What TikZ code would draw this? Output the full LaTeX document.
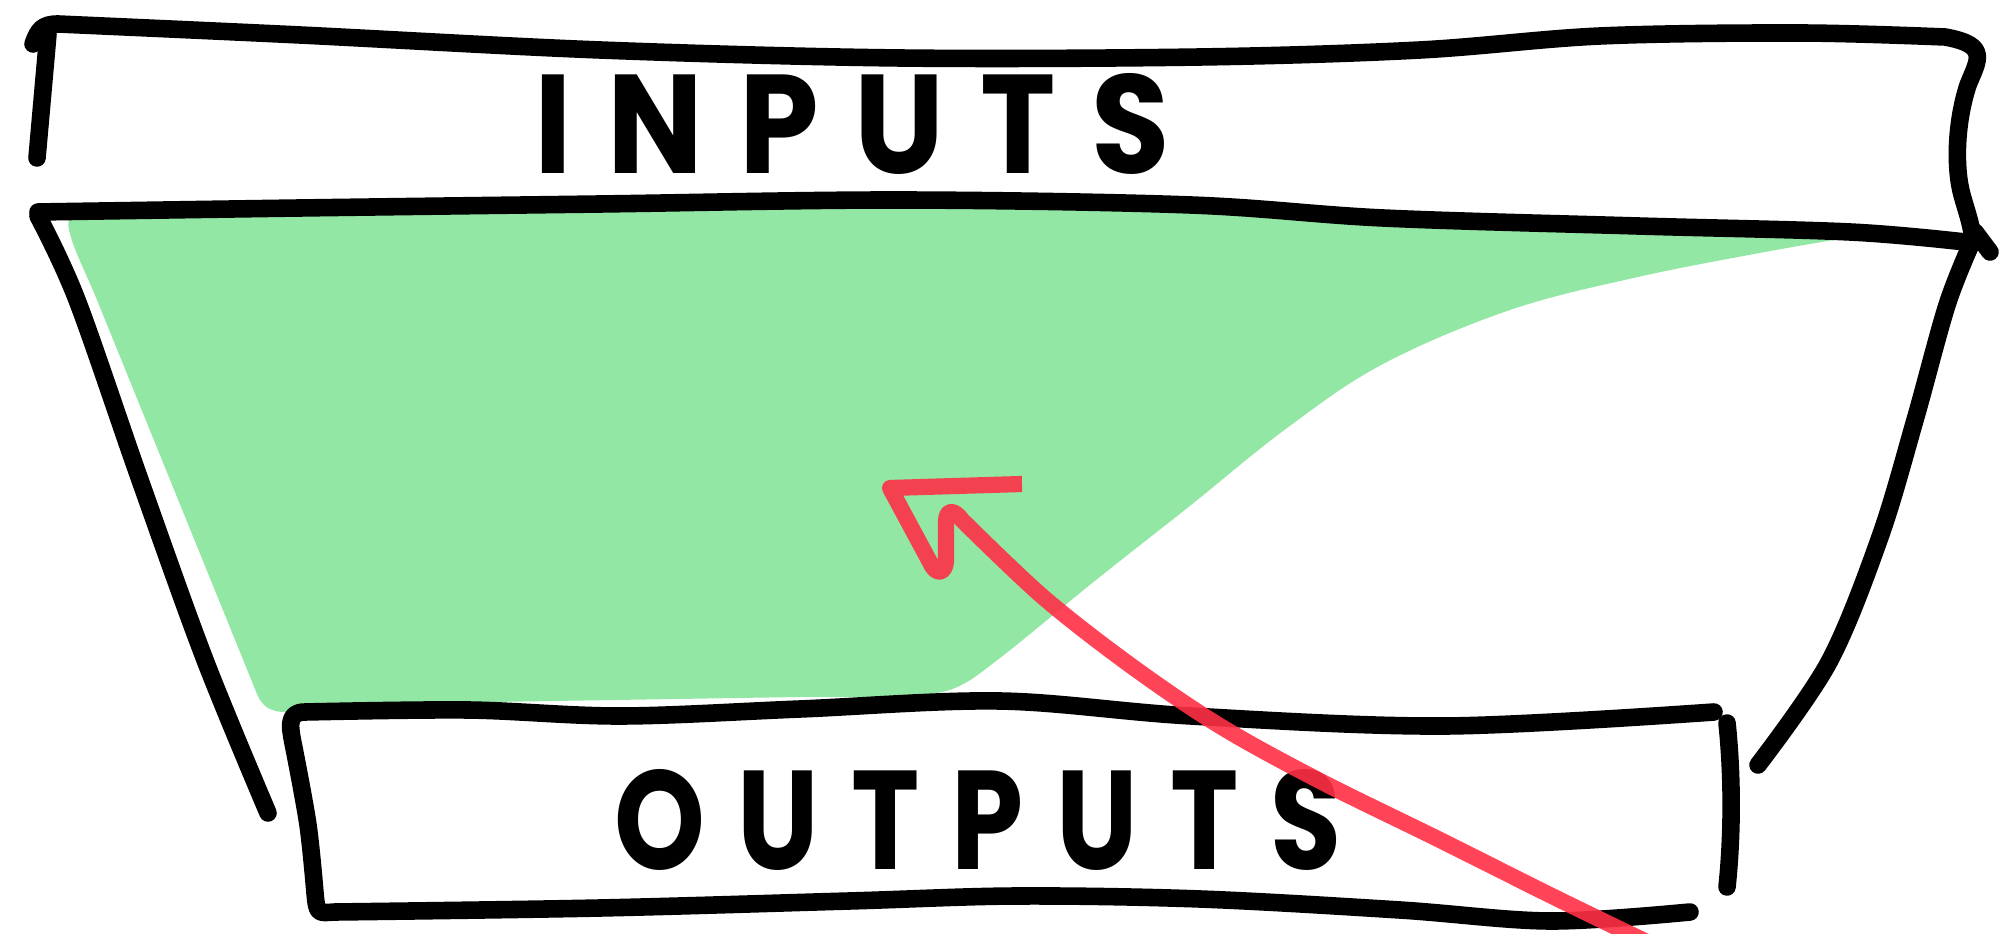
\documentclass[tikz,border=0pt]{standalone}
\usepackage{fontspec}
\usepackage{graphicx}
\newfontfamily\handfont[LetterSpace=28]{Poppins}
\definecolor{fillgreen}{RGB}{147,231,165}
\definecolor{crayonred}{RGB}{255,48,70}
\begin{document}
\begin{tikzpicture}[x=0.01cm,y=-0.01cm,
  ink/.style={line width=5pt,line cap=round,line join=round,draw=black},
  crayon/.style={line width=4.6pt,line cap=round,line join=round,draw=crayonred,opacity=0.9},
  wordlabel/.style={inner sep=0pt,anchor=center}]
\useasboundingbox (0,0) rectangle (2003,934);

% green area
\fill[fillgreen] plot[smooth,tension=0.5] coordinates {(70,217) (400,214) (900,208) (1191,212) (1383,226) (1638,233) (1840,239)}
  -- plot[smooth,tension=0.6] coordinates {(1840,239) (1765,252) (1638,277) (1510,310) (1383,364) (1287,428) (1191,505) (1096,580) (1000,658) (955,688) (910,697)}
  -- (800,697) -- (430,703) -- (290,712) .. controls (270,713) and (262,706) .. (257,694)
  -- (97,300) .. controls (85,270) and (62,228) .. (70,217) -- cycle;

% top box
\draw[ink] (33,44) .. controls (38,30) and (42,24) .. (58,24)
  -- plot[smooth,tension=0.55] coordinates {(58,24) (300,35) (600,50) (900,58) (1200,57) (1420,50) (1600,36) (1800,33) (1945,37)}
  .. controls (1990,45) and (1978,60) .. (1968,85)
  .. controls (1955,125) and (1955,170) .. (1962,195)
  .. controls (1966,210) and (1972,225) .. (1973,242);
\draw[ink] (48,34) -- (37,158);
\draw[ink] plot[smooth,tension=0.55] coordinates {(38,212) (300,208) (600,204) (900,200) (1191,205) (1383,218) (1638,226) (1850,232) (1965,242)};
\draw[ink] (1975,232) -- (1990,252);

% funnel sides
\draw[ink] plot[smooth,tension=0.55] coordinates {(38,216) (77,300) (140,480) (205,660) (268,813)};
\draw[ink] plot[smooth,tension=0.55] coordinates {(1972,242) (1947,305) (1915,420) (1880,537) (1829,662) (1758,765)};

% bottom box
\draw[ink] plot[smooth,tension=0.55] coordinates {(1714,712) (1446,726) (1191,716) (1000,701) (800,709) (621,716) (468,710) (305,712)}
  .. controls (286,712) and (290,728) .. (294,748)
  -- plot[smooth,tension=0.55] coordinates {(294,748) (308,825) (315,893)}
  .. controls (317,915) and (318,913) .. (335,912)
  -- plot[smooth,tension=0.55] coordinates {(335,912) (600,908) (849,901) (1017,896) (1200,899) (1400,910) (1550,921) (1690,912)};
\draw[ink] (1727,723) .. controls (1733,780) and (1732,840) .. (1727,887);

% labels
\node[wordlabel] (inputs) at (852,124) {\resizebox{6.35cm}{1.0cm}{\handfont\bfseries INPUTS}};
\node[wordlabel] (outputs) at (978,820) {\resizebox{7.27cm}{1.0cm}{\handfont\bfseries OUTPUTS}};

% red arrow (crayon)
\coordinate (headend) at (1022,484);
\coordinate (cusp) at (962,520);
\draw[crayon,line cap=butt] (headend) -- (890,488) -- (932,566)
  .. controls (938,576) and (946,572) .. (946,560) -- (946,522)
  .. controls (946,508) and (955,510) .. (cusp)
  -- plot[smooth,tension=0.55] coordinates {(962,520) (1043,597) (1130,665) (1220,726) (1320,781) (1440,840) (1560,900) (1680,958)};
\end{tikzpicture}
\end{document}
